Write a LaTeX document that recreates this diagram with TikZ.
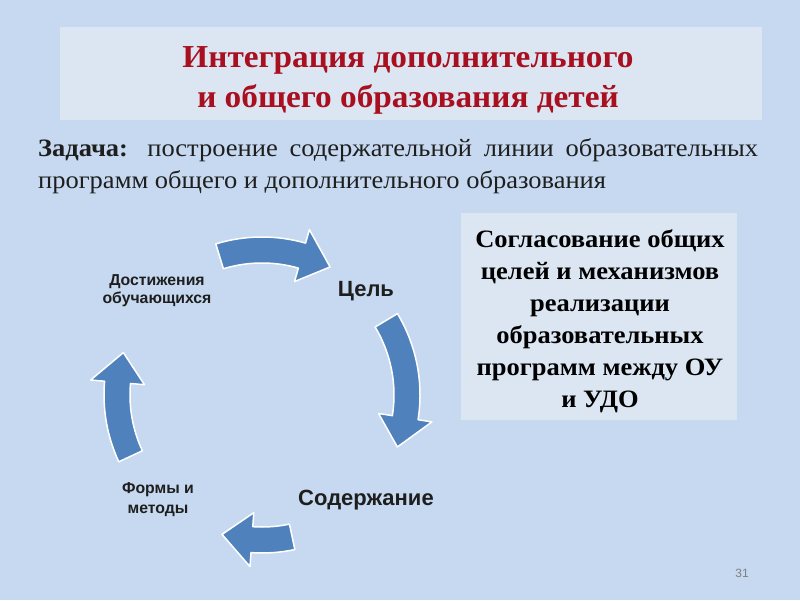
\documentclass[tikz,border=0pt]{standalone}
\usepackage{fontspec}
\setmainfont{Liberation Serif}
\setsansfont{Liberation Sans}
\newfontfamily\titleserif[FakeStretch=1.04]{Liberation Serif}
\newfontfamily\taskserif[FakeStretch=1.06]{Liberation Serif}
\newfontfamily\boxserif[FakeStretch=1.06]{Liberation Serif}
\definecolor{bgblue}{RGB}{198,217,240}
\definecolor{boxblue}{RGB}{220,230,242}
\definecolor{titlered}{RGB}{168,16,32}
\definecolor{arrowblue}{RGB}{79,129,189}
\definecolor{txtdark}{RGB}{30,30,30}
\tikzset{
  panel/.style={fill=boxblue, draw=none},
  cyclabel/.style={text=txtdark, align=center, inner sep=0pt},
  arrowshape/.style={fill=arrowblue, draw=white, line width=1.5pt, line join=round}
}
\newcommand\cycarrow[2]{%
  \pgfmathsetmacro\ah{#2+12}%
  \path[arrowshape] (#1:158pt) arc[start angle=#1, end angle=\ah, radius=158pt]
    -- (\ah:172pt) -- (#2:145pt) -- (\ah:118pt) -- (\ah:132pt)
    arc[start angle=\ah, end angle=#1, radius=132pt] -- cycle;}
\begin{document}
\begin{tikzpicture}[x=1pt,y=1pt]
\fill[bgblue] (0,0) rectangle (800,600);
\useasboundingbox (0,0) rectangle (800,600);
% title box
\path[panel] (60,480) rectangle (762,573);
\node[align=center, text=titlered, font=\titleserif\bfseries\fontsize{32}{40}\selectfont, inner sep=0pt] (title) at (408,520)
  {Интеграция дополнительного\\ и общего образования детей};
% task
\node[anchor=north west, text width=720pt, align=justify, inner sep=0pt, text=txtdark,
  font=\taskserif\fontsize{25}{32}\selectfont] (task) at (38,462)
  {\textbf{Задача:} построение содержательной линии образовательных программ общего и дополнительного образования};
% right box
\path[panel] (461,180) rectangle (737,387);
\node[align=center, inner sep=0pt, text=black, font=\boxserif\bfseries\fontsize{25}{32}\selectfont] (agree) at (600,279)
  {Согласование общих\\целей и механизмов\\реализации\\образовательных\\программ между ОУ\\и УДО};
% cycle arrows
\begin{scope}[shift={(262,205)}]
  \cycarrow{107}{62}
  \cycarrow{31}{-21}
  \cycarrow{-78}{-106}
  \cycarrow{205}{163}
\end{scope}
% labels
\node[cyclabel, font=\sffamily\bfseries\fontsize{22}{24}\selectfont] (goal) at (366,309) {Цель};
\node[cyclabel, font=\sffamily\bfseries\fontsize{22}{24}\selectfont] (content) at (366,100) {Содержание};
\node[cyclabel, font=\sffamily\bfseries\fontsize{15.8}{18}\selectfont] (ach) at (157,309) {Достижения\\обучающихся};
\node[cyclabel, font=\sffamily\bfseries\fontsize{15.8}{20}\selectfont] (forms) at (158,100) {Формы и\\методы};
\node[font=\sffamily\fontsize{12}{14}\selectfont, text=gray, inner sep=0pt] (pnum) at (742,27) {31};
\end{tikzpicture}
\end{document}
